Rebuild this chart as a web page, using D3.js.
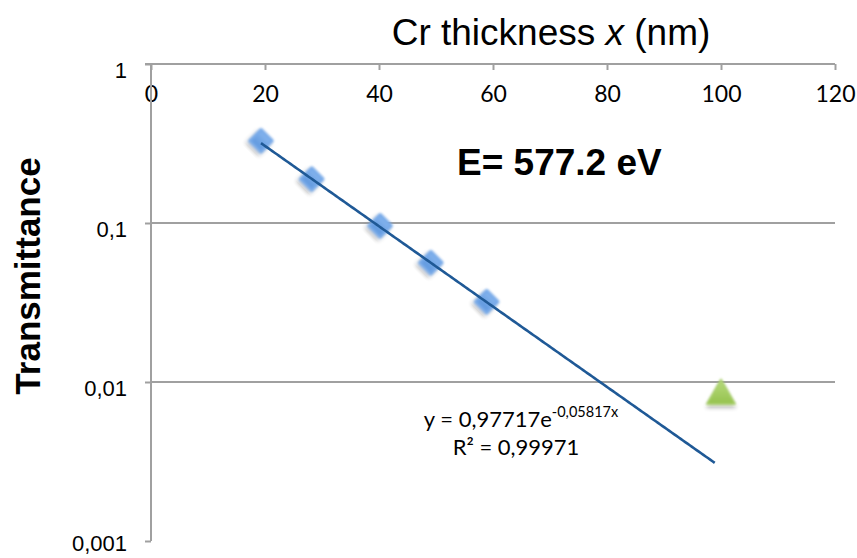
<!DOCTYPE html>
<html>
<head>
<meta charset="utf-8">
<script src="https://cdn.jsdelivr.net/npm/d3@7/dist/d3.min.js"></script>
<style>
  html, body { margin: 0; padding: 0; background: #fff; }
  svg { display: block; }
</style>
</head>
<body>
<svg id="chart" width="857" height="558"></svg>
<script>
// Measured transmittance through Cr layers at E = 577.2 eV
const thickness = [19.3, 28.2, 40.2, 49.1, 58.9];
const transmittance = [0.329, 0.189, 0.0961, 0.0563, 0.0320];
// Single extra measurement (triangle)
const extraThickness = [100];
const extraTransmittance = [0.0082];
// Exponential fit  y = a * exp(b * x)
const fitA = 0.97717;
const fitB = -0.05817;
const fitR2 = "0,99971";
const xTicks = [0, 20, 40, 60, 80, 100, 120];
const yTicks = [1, 0.1, 0.01, 0.001];

const svg = d3.select("#chart");
const x = d3.scaleLinear().domain([0, 120]).range([151, 835]);
const y = d3.scaleLog().domain([0.001, 1]).range([541, 64]);

const axisColor = "#a0a0a0";
const comma = d => String(d).replace(".", ",");

// Filters: soft shadow for markers
const defs = svg.append("defs");
const sh = defs.append("filter").attr("id", "soft").attr("x", "-50%").attr("y", "-50%").attr("width", "200%").attr("height", "200%");
sh.append("feGaussianBlur").attr("in", "SourceAlpha").attr("stdDeviation", 2.2).attr("result", "b");
sh.append("feOffset").attr("in", "b").attr("dx", 0).attr("dy", 3).attr("result", "o");
sh.append("feComponentTransfer").attr("in", "o").attr("result", "o2")
  .append("feFuncA").attr("type", "linear").attr("slope", 0.3);
sh.append("feGaussianBlur").attr("in", "SourceGraphic").attr("stdDeviation", 0.8).attr("result", "s");
const m = sh.append("feMerge");
m.append("feMergeNode").attr("in", "o2");
m.append("feMergeNode").attr("in", "s");

const gBlue = defs.append("linearGradient").attr("id", "gBlue").attr("x1", 0).attr("y1", 0).attr("x2", 0).attr("y2", 1);
gBlue.append("stop").attr("offset", 0).attr("stop-color", "#86b5ee");
gBlue.append("stop").attr("offset", 1).attr("stop-color", "#5c95dc");
const gGreen = defs.append("linearGradient").attr("id", "gGreen").attr("x1", 0).attr("y1", 0).attr("x2", 0).attr("y2", 1);
gGreen.append("stop").attr("offset", 0).attr("stop-color", "#b8db7e");
gGreen.append("stop").attr("offset", 1).attr("stop-color", "#95c24e");

// Horizontal gridlines
svg.append("g").selectAll("line")
  .data([0.1, 0.01])
  .join("line")
  .attr("x1", x(0)).attr("x2", x(120))
  .attr("y1", d => y(d)).attr("y2", d => y(d))
  .attr("stroke", axisColor).attr("stroke-width", 2);

// Top (x) axis, ticks pointing into the plot, labels below the line
const xAxis = svg.append("g")
  .attr("transform", `translate(0,${y(1)})`)
  .call(d3.axisBottom(x).tickValues(xTicks).tickSize(6).tickPadding(16).tickFormat(d3.format("d")));
xAxis.select(".domain").attr("stroke", axisColor).attr("stroke-width", 2)
  .attr("d", `M${x(0) - 6},0H${x(120)}`);
xAxis.selectAll(".tick line").attr("stroke", axisColor).attr("stroke-width", 2);
xAxis.selectAll(".tick text")
  .attr("fill", "#000").attr("font-family", "Lato, 'Open Sans', sans-serif").attr("font-size", 23);

// Left (y) axis
const yAxis = svg.append("g")
  .attr("transform", `translate(${x(0)},0)`)
  .call(d3.axisLeft(y).tickValues(yTicks).tickSize(6).tickPadding(18).tickFormat(comma));
yAxis.select(".domain").attr("stroke", axisColor).attr("stroke-width", 2)
  .attr("d", `M0,${y(1)}V${y(0.001)}`);
yAxis.selectAll(".tick line").attr("stroke", axisColor).attr("stroke-width", 2);
yAxis.selectAll(".tick text")
  .attr("fill", "#000").attr("font-family", "'Liberation Sans', Arial, sans-serif").attr("font-size", 22)
  .attr("dy", d => d === 0.001 ? "0.45em" : "0.6em");

// Fitted exponential trend line
const xMin = d3.min(thickness), xEnd = d3.max(thickness) + 40;
const fitPts = d3.range(0, 201).map(i => {
  const xv = xMin + (xEnd - xMin) * i / 200;
  return [xv, fitA * Math.exp(fitB * xv)];
});

// Data markers: diamonds
const diamond = d3.symbol().type(d3.symbolSquare).size(255);
svg.append("g").selectAll("path")
  .data(thickness.map((t, i) => [t, transmittance[i]]))
  .join("path")
  .attr("d", diamond)
  .attr("transform", d => `translate(${x(d[0])},${y(d[1])}) rotate(45)`)
  .attr("fill", "url(#gBlue)")
  .attr("stroke", "#78aae9").attr("stroke-width", 3).attr("stroke-linejoin", "round")
  .attr("filter", "url(#soft)");

svg.append("path")
  .datum(fitPts)
  .attr("fill", "none")
  .attr("stroke", "#1f5996")
  .attr("stroke-width", 2.6)
  .attr("d", d3.line().x(d => x(d[0])).y(d => y(d[1])));

// Extra point: triangle
const tri = d3.symbol().type(d3.symbolTriangle).size(350);
svg.append("g").selectAll("path")
  .data(extraThickness.map((t, i) => [t, extraTransmittance[i]]))
  .join("path")
  .attr("d", tri)
  .attr("transform", d => `translate(${x(d[0])},${y(d[1])})`)
  .attr("fill", "url(#gGreen)")
  .attr("stroke", "#a8d06a").attr("stroke-width", 1.5).attr("stroke-linejoin", "round")
  .attr("filter", "url(#soft)");

// Title (axis label for thickness)
const title = svg.append("text")
  .attr("x", 551).attr("y", 45)
  .attr("text-anchor", "middle")
  .attr("font-family", "'Liberation Sans', Arial, sans-serif")
  .attr("font-size", 37)
  .attr("fill", "#000");
title.append("tspan").text("Cr thickness ");
title.append("tspan").attr("font-style", "italic").text("x");
title.append("tspan").text(" (nm)");

// Y-axis label
svg.append("text")
  .attr("transform", "translate(40,276) rotate(-90)")
  .attr("text-anchor", "middle")
  .attr("font-family", "'Liberation Sans', Arial, sans-serif")
  .attr("font-weight", "bold")
  .attr("font-size", 35)
  .attr("fill", "#000")
  .text("Transmittance");

// Photon energy annotation
svg.append("text")
  .attr("x", 457).attr("y", 175)
  .attr("font-family", "'Liberation Sans', Arial, sans-serif")
  .attr("font-weight", "bold")
  .attr("font-size", 37)
  .attr("fill", "#000")
  .text("E= 577.2 eV");

// Fit equation
const eq = svg.append("text")
  .attr("x", 521).attr("y", 427)
  .attr("text-anchor", "middle")
  .attr("font-family", "Lato, 'Open Sans', sans-serif")
  .attr("font-size", 22)
  .attr("fill", "#000");
eq.append("tspan").text("y = " + comma(fitA) + "e");
eq.append("tspan").attr("dy", -10).attr("font-size", 14.5).text(comma(fitB) + "x");
svg.append("text")
  .attr("x", 516).attr("y", 455)
  .attr("text-anchor", "middle")
  .attr("font-family", "Lato, 'Open Sans', sans-serif")
  .attr("font-size", 22)
  .attr("fill", "#000")
  .text("R² = " + fitR2);
</script>
</body>
</html>
